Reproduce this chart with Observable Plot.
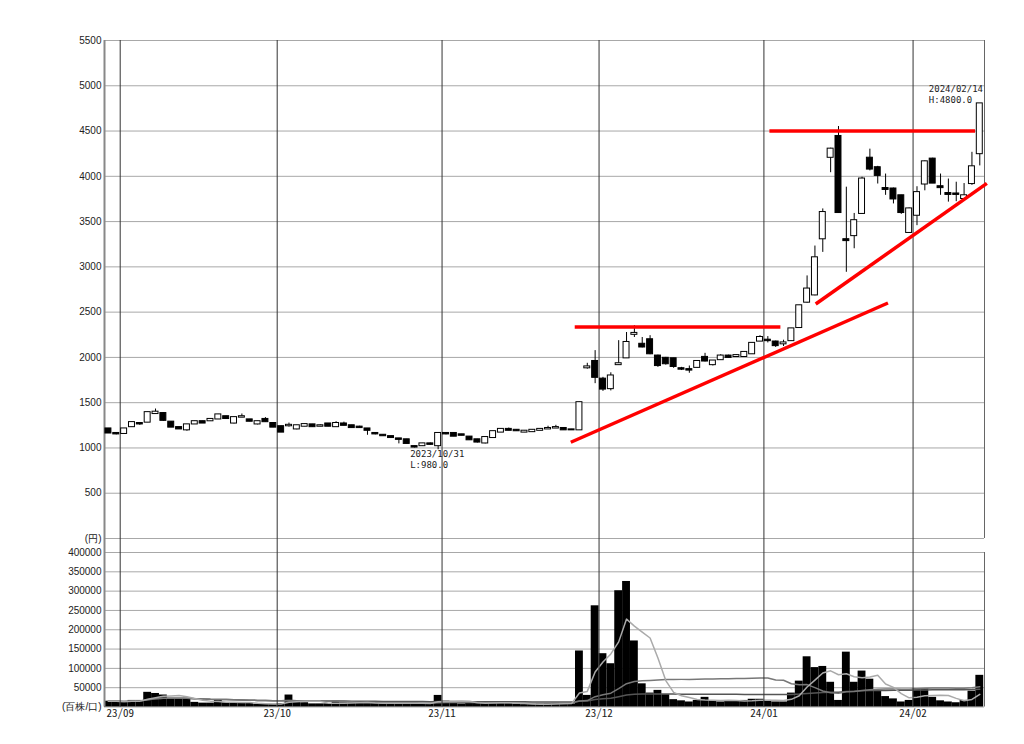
<!DOCTYPE html>
<html>
<head>
<meta charset="utf-8">
<script src="https://cdn.jsdelivr.net/npm/d3@7"></script>
<script src="https://cdn.jsdelivr.net/npm/@observablehq/plot@0.6"></script>
<style>
  body { margin: 0; background: #fff; }
  #chart { position: relative; width: 1024px; height: 744px; }
  #chart svg { position: absolute; left: 0; }
</style>
</head>
<body>
<div id="chart"></div>
<script>
// daily candles, 2023/08/30 .. 2024/02/14 (one entry per trading day)
const opens = [1210,1160,1160,1235,1270,1285,1380,1380,1285,1225,1200,1265,1290,1300,1320,1345,1275,1340,1310,1265,
  1315,1270,1235,1245,1210,1240,1255,1240,1265,1235,1265,1245,1230,1210,1160,1140,1125,1100,1090,1015,
  1025,1045,1025,1160,1160,1145,1120,1090,1055,1115,1175,1205,1195,1175,1180,1195,1210,1220,1215,1200,
  1200,1885,1955,1760,1655,1920,1995,2255,2145,2195,2015,1990,1985,1875,1865,1890,2000,1920,1975,2015,
  2010,2010,2040,2180,2190,2170,2150,2185,2330,2610,2690,3310,4210,4440,3300,3345,3590,4200,4095,3865,
  3860,3785,3380,3570,3915,4190,3885,3810,3805,3755,3920,4250];
const highs = [1215,1165,1215,1290,1280,1395,1430,1390,1290,1230,1260,1295,1295,1320,1370,1350,1340,1375,1315,1295,
  1335,1275,1240,1275,1250,1262,1260,1255,1270,1290,1285,1250,1240,1215,1165,1145,1130,1105,1095,1020,
  1050,1055,1165,1170,1165,1150,1125,1095,1120,1185,1210,1220,1200,1190,1200,1210,1240,1250,1220,1205,
  1505,1935,2075,1780,1830,2185,2275,2350,2220,2240,2025,2000,1990,1890,1905,1960,2045,1965,2030,2025,
  2030,2060,2160,2240,2230,2180,2190,2320,2575,2900,3230,3640,4310,4550,3880,3590,3990,4300,4110,4025,
  3870,3790,3650,3885,4170,4200,4025,3970,3935,3920,4265,4800];
const lows = [1160,1145,1155,1230,1250,1280,1375,1295,1225,1205,1185,1260,1270,1295,1315,1320,1265,1335,1290,1255,
  1285,1225,1170,1230,1200,1235,1230,1235,1235,1230,1245,1220,1220,1140,1145,1130,1110,1045,1045,1000,
  1020,1030,980,1145,1125,1135,1085,1055,1045,1110,1170,1190,1185,1170,1175,1190,1205,1215,1195,1195,
  1195,1870,1710,1625,1630,1915,1990,2220,2105,2030,1890,1915,1880,1855,1825,1880,1950,1905,1970,1990,
  2000,2005,2035,2175,2160,2110,2120,2180,2325,2600,2680,3160,4040,3590,2940,3200,3580,4060,3915,3790,
  3695,3580,3370,3455,3840,3920,3790,3715,3720,3730,3900,4115];
const closes = [1165,1155,1210,1280,1265,1390,1395,1305,1230,1210,1255,1290,1275,1315,1365,1325,1335,1345,1295,1290,
  1290,1230,1175,1250,1245,1258,1235,1245,1240,1270,1250,1225,1225,1195,1155,1135,1115,1095,1050,1010,
  1045,1040,1160,1155,1130,1140,1090,1065,1115,1180,1205,1195,1190,1185,1195,1205,1215,1225,1200,1200,
  1500,1895,1780,1650,1795,1930,2165,2265,2115,2040,1910,1930,1900,1870,1860,1955,1960,1960,2015,2000,
  2020,2055,2155,2220,2185,2130,2160,2315,2570,2755,3100,3600,4300,3600,3290,3510,3970,4080,4010,3855,
  3750,3600,3640,3820,4160,3925,3875,3800,3800,3785,4105,4800];
// volume, in 百株
const volumes = [15000,15000,12000,17000,17000,38000,35000,31000,22000,22000,22000,12000,10000,10000,18000,11000,11000,9000,9000,7000,
  7000,7000,9000,31000,15000,11000,8000,8000,8000,15000,11000,11000,11000,11000,9000,8000,10000,9000,12000,10000,
  7000,8000,30000,15000,12000,8000,10000,9000,11000,14000,12000,9000,7000,6000,6000,8000,9000,10000,9000,8000,
  145000,30000,262000,138000,112000,301000,325000,171000,60000,36000,43000,32000,19000,16000,13000,17000,25000,16000,13000,16000,
  15000,17000,20000,20000,17000,13000,13000,36000,67000,130000,102000,105000,64000,17000,142000,64000,93000,72000,41000,27000,
  21000,13000,17000,47000,47000,25000,16000,13000,11000,17000,41000,82000];

// month boundaries (index of first trading day) and their labels
const monthStart = [2, 22, 43, 63, 84, 103];
const monthLabels = ["23/09", "23/10", "23/11", "23/12", "24/01", "24/02"];

const priceTicks = d3.range(0, 5501, 500);
const volumeTicks = d3.range(0, 400001, 50000);

// hand drawn red lines (day index, price)
const trendX1 = [59.4, 84.2, 58.9, 90.1];
const trendY1 = [2335, 4500, 1063, 2590];
const trendX2 = [85.6, 110.4, 99.3, 111.9];
const trendY2 = [2335, 4500, 2601, 3922];

// low / high notes
const noteIndex = [42, 111];
const notePrice = [980, 4800];
const noteDate = ["2023/10/31", "2024/02/14"];
const noteValue = ["L:980.0", "H:4800.0"];

const idx = d3.range(opens.length);
const up = idx.filter(i => closes[i] >= opens[i]);
const down = idx.filter(i => closes[i] < opens[i]);
const monthLines = monthStart.map(s => s - 0.5);
const xDomain = [-0.5, 111.6];
const gothic = "'Noto Sans Mono CJK JP', 'Noto Sans CJK JP', 'DejaVu Sans Mono', monospace";
const noteStyle = {textAnchor: "start", fontSize: 9, fontFamily: "'DejaVu Sans Mono', monospace", fill: "#222"};

const style = {fontFamily: "'Liberation Sans', Arial, sans-serif", fontSize: "10px", background: "white", color: "#222", overflow: "visible"};

const price = Plot.plot({
  width: 1024,
  height: 545,
  marginLeft: 104,
  marginRight: 40,
  marginTop: 40,
  marginBottom: 7,
  style,
  x: {domain: xDomain, axis: null},
  y: {domain: [0, 5500], axis: null},
  marks: [
    Plot.gridY(priceTicks, {stroke: "#a8a8a8", strokeOpacity: 1}),
    Plot.ruleX(monthLines, {stroke: "#333", insetBottom: -7}),
    Plot.ruleX([xDomain[1]], {stroke: "#666"}),
    Plot.ruleX([xDomain[0]], {stroke: "#888", strokeWidth: 2, insetBottom: -7}),
    Plot.axisY(priceTicks, {tickSize: 0, tickPadding: 3, fontSize: 10,
      tickFormat: d => d === 0 ? "(円)" : String(d)}),
    Plot.ruleX(idx, {x: i => i, y1: i => lows[i], y2: i => highs[i], stroke: "black"}),
    Plot.rect(up, {x1: i => i - 0.38, x2: i => i + 0.38, y1: i => opens[i], y2: i => closes[i],
      fill: "white", stroke: "black", insetTop: -0.5, insetBottom: -0.5}),
    Plot.rect(down, {x1: i => i - 0.38, x2: i => i + 0.38, y1: i => opens[i], y2: i => closes[i],
      fill: "black", stroke: "black", insetTop: -0.5, insetBottom: -0.5}),
    Plot.link(trendX1, {x1: trendX1, y1: trendY1, x2: trendX2, y2: trendY2,
      stroke: "#ff0000", strokeWidth: 3.5}),
    // low note under the 10/31 candle
    Plot.text([0], {x: noteIndex[0], y: notePrice[0], text: [noteDate[0]], dx: -28, dy: 1, lineAnchor: "top", ...noteStyle}),
    Plot.text([0], {x: noteIndex[0], y: notePrice[0], text: [noteValue[0]], dx: -28, dy: 12, lineAnchor: "top", ...noteStyle}),
    // high note above the last candle
    Plot.text([0], {x: noteIndex[1], y: notePrice[1], text: [noteDate[1]], dx: -51, dy: -12, lineAnchor: "bottom", ...noteStyle}),
    Plot.text([0], {x: noteIndex[1], y: notePrice[1], text: [noteValue[1]], dx: -51, dy: -1, lineAnchor: "bottom", ...noteStyle})
  ]
});

const vol = Plot.plot({
  width: 1024,
  height: 199,
  marginLeft: 104,
  marginRight: 40,
  marginTop: 7,
  marginBottom: 37.5,
  style,
  x: {domain: xDomain, axis: null},
  y: {domain: [0, 400000], axis: null},
  marks: [
    Plot.gridY(volumeTicks, {stroke: "#a8a8a8", strokeOpacity: 1}),
    Plot.rect(idx, {x1: i => i - 0.5, x2: i => i + 0.5, y1: 0, y2: i => volumes[i], fill: "black"}),
    Plot.lineY(idx, Plot.windowY({k: 75, anchor: "end"}, {x: i => i, y: i => volumes[i], stroke: "#555"})),
    Plot.lineY(idx, Plot.windowY({k: 25, anchor: "end"}, {x: i => i, y: i => volumes[i], stroke: "#777"})),
    Plot.lineY(idx, Plot.windowY({k: 5, anchor: "end"}, {x: i => i, y: i => volumes[i], stroke: "#aaa"})),
    Plot.ruleX(monthLines, {stroke: "#333", insetTop: -7}),
    Plot.ruleX([xDomain[1]], {stroke: "#666"}),
    Plot.ruleX([xDomain[0]], {stroke: "#888", strokeWidth: 2, insetTop: -7}),
    Plot.axisY(volumeTicks, {tickSize: 0, tickPadding: 3, fontSize: 10,
      tickFormat: d => d === 0 ? "(百株/口)" : String(d)}),
    Plot.axisX(monthLines, {tickSize: 0, tickPadding: 2, fontSize: 11, fontFamily: gothic,
      tickFormat: d => monthLabels[monthLines.indexOf(d)]})
  ]
});

const chart = d3.select("#chart");
chart.append(() => price).style("top", "0px");
chart.append(() => vol).style("top", "545px");
</script>
</body>
</html>
